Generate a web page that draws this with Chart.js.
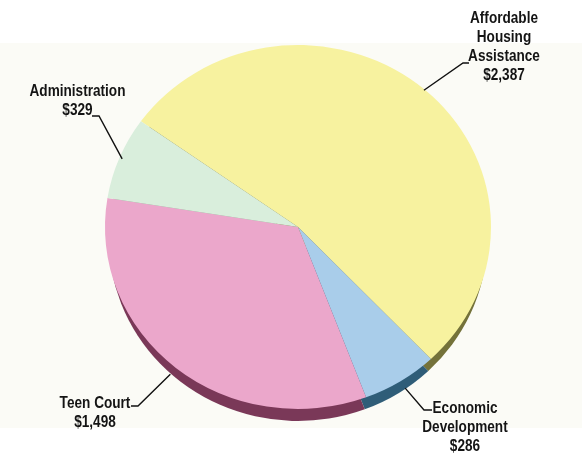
<!DOCTYPE html>
<html>
<head>
<meta charset="utf-8">
<script src="https://cdn.jsdelivr.net/npm/chart.js@4.4.1/dist/chart.umd.min.js"></script>
<style>
  html, body { margin: 0; padding: 0; background: #ffffff; }
  #wrap { width: 582px; height: 455px; position: relative; }
</style>
</head>
<body>
<div id="wrap"><canvas id="budget" width="582" height="455"></canvas></div>
<script>
// Program budget (in dollars), clockwise from the upper left
const categories = ['Affordable Housing Assistance', 'Economic Development', 'Teen Court', 'Administration'];
const amounts = [2387, 286, 1498, 329];
const labelLines = [
  ['Affordable', 'Housing', 'Assistance'],
  ['Economic', 'Development'],
  ['Teen Court'],
  ['Administration']
];

// Slice colours: top face and the darker rim seen below it
const faceColors = ['#f7f29f', '#a9cdea', '#eba7cb', '#d9eedc'];
const rimColors = ['#74723a', '#2f5d78', '#7a3858', '#8aa08c'];

// Callout placement: text centre, first line y, elbow and stub end of the leader
const calloutLayout = [
  { x: 504, y: 18, elbow: [463, 63], stub: [469, 63], reach: 0.995 },
  { x: 465, y: 408, elbow: [424, 410], stub: [432, 410], reach: 1.045 },
  { x: 95, y: 403, elbow: [138, 406], stub: [131, 406], reach: 1.045 },
  { x: 77.5, y: 91, elbow: [99, 116], stub: [92, 116], reach: 0.985 }
];

const TILT = 0.943;     // vertical squash of the pie top
const DEPTH = 12;       // thickness of the rim
const RIM_NARROW = 0.98;
const FONT = 'bold 17px "Liberation Sans", Arial, Helvetica, sans-serif';
const CONDENSE = 0.8;   // narrow-face width for the callout text

function applyTilt(ctx, cx, cy, sx) {
  ctx.translate(cx, cy);
  ctx.scale(sx, TILT);
  ctx.translate(-cx, -cy);
}

const backdrop = {
  id: 'backdrop',
  beforeDraw(chart) {
    const ctx = chart.ctx;
    ctx.save();
    ctx.fillStyle = '#ffffff';
    ctx.fillRect(0, 0, chart.width, chart.height);
    ctx.fillStyle = '#fbfbf6';
    ctx.fillRect(0, 43, chart.width, 385);
    ctx.restore();
  }
};

const tilt = {
  id: 'tilt',
  beforeDatasetsDraw(chart) {
    const meta = chart.getDatasetMeta(0);
    const ctx = chart.ctx;
    const first = meta.data[0];
    const cx = first.x, cy = first.y;
    // rim: the same slices, shifted down and darkened
    ctx.save();
    ctx.translate(0, DEPTH);
    applyTilt(ctx, cx, cy, RIM_NARROW);
    meta.data.forEach((arc, i) => {
      ctx.beginPath();
      ctx.moveTo(arc.x, arc.y);
      ctx.arc(arc.x, arc.y, arc.outerRadius, arc.startAngle, arc.endAngle);
      ctx.closePath();
      ctx.fillStyle = rimColors[i];
      ctx.fill();
    });
    ctx.restore();
    // top face drawn by the controller under the same squash
    ctx.save();
    applyTilt(ctx, cx, cy, 1);
  },
  afterDatasetsDraw(chart) {
    chart.ctx.restore();
  }
};

const callouts = {
  id: 'callouts',
  afterDraw(chart) {
    const meta = chart.getDatasetMeta(0);
    const ctx = chart.ctx;
    ctx.save();
    ctx.font = FONT;
    ctx.fillStyle = '#141414';
    ctx.strokeStyle = '#111111';
    ctx.lineWidth = 1.4;
    ctx.textAlign = 'center';
    ctx.textBaseline = 'middle';
    meta.data.forEach((arc, i) => {
      const lay = calloutLayout[i];
      const mid = (arc.startAngle + arc.endAngle) / 2;
      const r = arc.outerRadius * lay.reach;
      const px = arc.x + r * Math.cos(mid);
      const py = arc.y + r * TILT * Math.sin(mid);
      ctx.beginPath();
      ctx.moveTo(px, py);
      ctx.lineTo(lay.elbow[0], lay.elbow[1]);
      ctx.lineTo(lay.stub[0], lay.stub[1]);
      ctx.stroke();
      const lines = labelLines[i].concat(['$' + amounts[i].toLocaleString('en-US')]);
      lines.forEach((t, k) => {
        ctx.save();
        ctx.translate(lay.x, lay.y + k * 19);
        ctx.scale(CONDENSE, 1);
        ctx.fillText(t, 0, 0);
        ctx.restore();
      });
    });
    ctx.restore();
  }
};

new Chart(document.getElementById('budget'), {
  type: 'pie',
  data: {
    labels: categories,
    datasets: [{
      data: amounts,
      backgroundColor: faceColors,
      borderWidth: 0,
      hoverOffset: 0,
      offset: 0,
      clip: false
    }]
  },
  options: {
    responsive: false,
    animation: false,
    events: [],
    rotation: 305.5,
    radius: 193,
    layout: { padding: { left: 105, right: 91, top: 34, bottom: 35 } },
    plugins: {
      legend: { display: false },
      tooltip: { enabled: false }
    }
  },
  plugins: [backdrop, tilt, callouts]
});
</script>
</body>
</html>
